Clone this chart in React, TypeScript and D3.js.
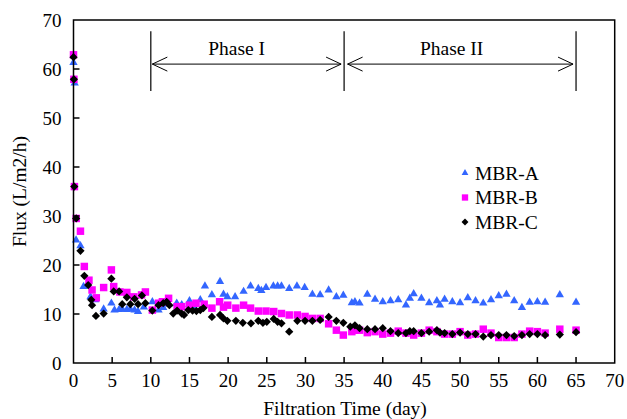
import React from 'react';
import * as d3 from 'd3';

const width = 627;
const height = 419;
const margin = { top: 20, left: 73.5, right: 12.3, bottom: 56 };

// MBR-A (day, flux)
const daysA = [0, 0.15, 0.33, 0.9, 1.3, 2.2, 2.8, 3.9, 4.9, 5.3, 5.9, 6.3, 6.9, 7.35, 7.9, 8.35, 9.1, 10.2, 11.0, 11.6, 12.3, 13.35, 14.0, 15.0, 15.7, 16.4, 17.0, 17.9, 18.95, 19.4, 19.9, 20.9, 22.0, 22.9, 23.9, 24.3, 24.9, 25.85, 26.4, 26.9, 27.9, 28.9, 29.9, 30.9, 31.9, 33.0, 34.0, 34.9, 36.0, 36.4, 37.0, 38.0, 39.0, 40.0, 41.0, 42.0, 43.0, 43.5, 44.0, 45.0, 46.0, 47.0, 47.4, 48.0, 49.0, 50.0, 51.0, 52.0, 53.0, 54.0, 55.0, 56.0, 57.0, 58.0, 59.0, 60.0, 61.0, 62.9, 65.0];
const fluxA = [61.3, 57.1, 25.1, 23.9, 15.6, 13.5, 12.9, 11.0, 12.2, 10.8, 10.9, 11.0, 10.9, 11.0, 10.8, 10.5, 11.4, 12.5, 10.8, 11.3, 12.0, 12.2, 11.9, 12.7, 11.2, 12.9, 15.7, 13.9, 16.6, 14.0, 13.5, 13.5, 14.6, 15.7, 15.2, 14.8, 15.4, 15.7, 15.7, 15.7, 15.2, 15.7, 15.4, 14.0, 13.9, 14.9, 13.5, 13.8, 12.3, 12.5, 12.2, 14.0, 13.0, 12.5, 12.7, 12.9, 11.8, 13.2, 14.1, 13.2, 12.3, 12.7, 11.8, 13.0, 12.5, 12.3, 13.3, 12.7, 12.2, 12.9, 13.7, 14.0, 12.7, 11.3, 12.4, 12.5, 12.4, 13.9, 12.4];

// MBR-B
const daysB = [0, 0.05, 0.12, 0.35, 0.9, 1.4, 2.0, 2.4, 2.95, 3.9, 4.9, 5.2, 6.0, 6.9, 7.8, 8.8, 9.3, 10.2, 11.0, 11.5, 12.3, 13.4, 14.0, 15.0, 15.85, 16.9, 17.9, 18.9, 19.4, 19.95, 21.0, 22.0, 22.9, 23.9, 24.9, 25.9, 26.9, 27.9, 28.95, 29.95, 30.9, 31.9, 33.0, 34.0, 34.9, 36.0, 36.4, 37.0, 38.0, 39.0, 40.0, 41.0, 42.0, 43.0, 44.0, 45.0, 46.0, 47.0, 48.0, 49.0, 50.0, 51.0, 52.0, 53.0, 54.0, 55.0, 56.0, 57.0, 58.0, 59.0, 60.0, 61.0, 62.9, 65.0];
const fluxB = [62.9, 57.9, 36.0, 29.5, 26.9, 19.7, 16.9, 14.9, 13.3, 15.4, 19.0, 15.6, 14.5, 14.4, 13.5, 13.9, 14.5, 10.8, 12.2, 12.5, 13.2, 11.5, 11.5, 11.8, 12.2, 12.0, 11.2, 12.5, 11.4, 11.8, 11.2, 11.8, 11.2, 10.6, 10.6, 10.5, 10.1, 9.8, 9.8, 9.5, 9.1, 9.1, 8.0, 6.7, 5.7, 6.4, 6.7, 6.7, 6.2, 6.4, 5.9, 6.1, 6.5, 6.1, 5.7, 6.1, 6.7, 6.4, 5.9, 5.9, 6.4, 5.7, 5.9, 6.9, 6.1, 5.2, 5.2, 5.2, 5.9, 6.5, 6.4, 6.1, 6.9, 6.7];

// MBR-C
const daysC = [0, 0.05, 0.1, 0.35, 0.9, 1.4, 1.9, 2.3, 2.4, 2.9, 3.9, 4.9, 5.2, 5.9, 6.3, 6.9, 7.35, 7.9, 8.35, 8.85, 9.3, 10.2, 11.0, 11.6, 12.05, 12.4, 12.9, 13.4, 14.0, 14.3, 14.85, 15.4, 15.9, 16.4, 16.8, 17.9, 18.95, 19.4, 19.9, 21.0, 21.9, 22.95, 23.9, 24.5, 25.0, 25.9, 26.4, 26.9, 27.9, 28.95, 29.95, 30.9, 31.9, 33.0, 34.0, 34.9, 35.8, 36.4, 37.0, 38.0, 39.0, 40.0, 41.0, 42.0, 43.0, 43.5, 44.0, 45.0, 46.0, 47.0, 47.4, 48.0, 49.0, 50.0, 51.0, 52.0, 53.0, 54.0, 55.0, 56.0, 57.0, 58.0, 59.0, 60.0, 61.0, 62.9, 65.0];
const fluxC = [62.4, 57.9, 36.0, 29.5, 22.9, 17.8, 15.9, 12.9, 11.8, 9.6, 10.1, 17.2, 14.6, 14.6, 12.0, 13.4, 12.0, 13.1, 12.0, 13.8, 12.2, 10.7, 11.8, 12.2, 12.5, 11.8, 10.1, 10.7, 10.1, 9.8, 10.8, 10.7, 10.6, 10.8, 11.2, 9.4, 9.8, 9.1, 8.6, 8.6, 8.2, 8.1, 8.6, 8.2, 8.4, 9.0, 8.4, 8.1, 6.4, 8.6, 8.6, 8.6, 8.8, 9.4, 8.6, 8.2, 7.4, 7.7, 7.1, 6.9, 6.9, 7.1, 6.5, 6.1, 6.1, 6.5, 6.5, 6.1, 6.4, 6.7, 6.2, 6.1, 5.9, 6.2, 5.9, 5.9, 5.4, 5.7, 5.7, 5.7, 5.5, 5.7, 5.9, 5.9, 5.7, 5.8, 6.3];

const xTicks = d3.range(0, 71, 5);
const yTicks = d3.range(0, 71, 10);
const phaseBounds = [10, 35, 65];
const phaseLabels = ['Phase I', 'Phase II'];
const phaseLabelDays = [21.1, 48.9];
const seriesNames = ['MBR-A', 'MBR-B', 'MBR-C'];

const font = '"Liberation Serif", "Times New Roman", serif';

export default function App() {
  const x = d3.scaleLinear().domain([0, 70]).range([margin.left, width - margin.right]);
  const y = d3.scaleLinear().domain([0, 70]).range([height - margin.bottom, margin.top]);

  const tri = d3.symbol().type(d3.symbolTriangle).size(30)()!;
  const sq = d3.symbol().type(d3.symbolSquare).size(56)()!;
  const dia = d3.symbol().type(d3.symbolSquare).size(34)()!;
  const triL = d3.symbol().type(d3.symbolTriangle).size(20)()!;
  const sqL = d3.symbol().type(d3.symbolSquare).size(40)()!;
  const diaL = d3.symbol().type(d3.symbolSquare).size(24)()!;

  const series = [
    { days: daysA, flux: fluxA, path: tri, legend: triL, color: '#3366FF', rot: 0 },
    { days: daysB, flux: fluxB, path: sq, legend: sqL, color: '#FF00FF', rot: 0 },
    { days: daysC, flux: fluxC, path: dia, legend: diaL, color: '#000000', rot: 45 },
  ];

  const x0 = x(0), x1 = x(70), y0 = y(0), y1 = y(70);
  const arrowY = y(61);
  const head = (tipX: number, dir: number) =>
    `M${tipX + dir * 15},${arrowY - 7}L${tipX},${arrowY}L${tipX + dir * 15},${arrowY + 7}`;

  return (
    <svg width={width} height={height} style={{ position: 'absolute', left: 0, top: 0, display: 'block' }}
      fontFamily={font}>
      <rect width={width} height={height} fill="#fff" />

      {/* points */}
      {series.map((s, si) => (
        <g key={si} fill={s.color}>
          {s.days.map((d, i) => (
            <path key={i} d={s.path}
              transform={`translate(${x(d)},${y(s.flux[i])}) rotate(${s.rot})`} />
          ))}
        </g>
      ))}

      {/* frame */}
      <rect x={x0} y={y1} width={x1 - x0} height={y0 - y1} fill="none" stroke="#000" strokeWidth={1.5} />

      {/* y axis */}
      {yTicks.map(t => (
        <g key={'y' + t}>
          {t > 0 && t < 70 && <line x1={x0} x2={x0 + 6} y1={y(t)} y2={y(t)} stroke="#000" strokeWidth={1.5} />}
          <text x={x0 - 12} y={y(t) + 7} textAnchor="end" fontSize={19}>{t}</text>
        </g>
      ))}

      {/* x axis */}
      {xTicks.map(t => (
        <g key={'x' + t}>
          {t > 0 && t < 70 && <line x1={x(t)} x2={x(t)} y1={y0} y2={y0 - 6} stroke="#000" strokeWidth={1.5} />}
          <text x={x(t)} y={y0 + 24} textAnchor="middle" fontSize={19}>{t}</text>
        </g>
      ))}

      <text transform={`translate(26,${(y0 + y1) / 2}) rotate(-90)`} textAnchor="middle" fontSize={19.5}>Flux (L/m2/h)</text>
      <text x={345} y={415} textAnchor="middle" fontSize={19.5}>Filtration Time (day)</text>

      {/* phases */}
      {phaseBounds.map(p => (
        <line key={'p' + p} x1={x(p)} x2={x(p)} y1={y(67.7)} y2={y(55.5)} stroke="#000" strokeWidth={1.2} />
      ))}
      {phaseLabels.map((lab, i) => {
        const a = x(phaseBounds[i]) + (i === 0 ? 1.5 : 3.5);
        const b = x(phaseBounds[i + 1]) - 3;
        return (
          <g key={lab} fill="none" stroke="#000" strokeWidth={1}>
            <line x1={a} x2={b} y1={arrowY} y2={arrowY} />
            <path d={head(a, 1)} />
            <path d={head(b, -1)} />
            <text x={x(phaseLabelDays[i])} y={y(62.9)} textAnchor="middle" fontSize={19.5} fill="#000" stroke="none">{lab}</text>
          </g>
        );
      })}

      {/* legend */}
      {seriesNames.map((name, i) => {
        const ly = 173 + i * 24.5;
        return (
          <g key={name}>
            <path d={series[i].legend} fill={series[i].color}
              transform={`translate(465,${ly}) rotate(${series[i].rot})`} />
            <text x={475} y={ly + 6.5} fontSize={19.5}>{name}</text>
          </g>
        );
      })}
    </svg>
  );
}
